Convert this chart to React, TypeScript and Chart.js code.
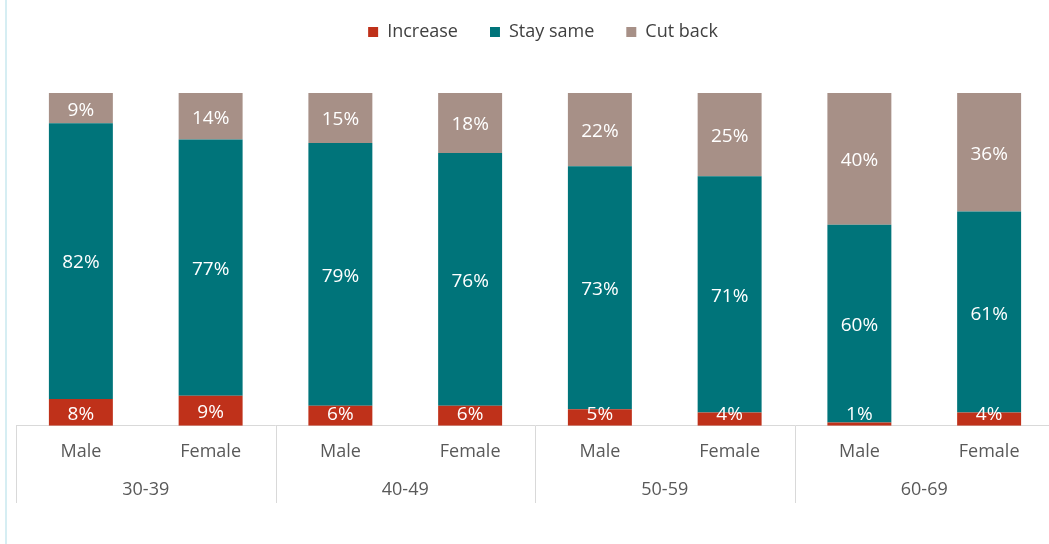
import React, { useEffect, useRef } from "react";
import { Chart, registerables } from "chart.js";

Chart.register(...registerables);

const sexes = ["Male", "Female", "Male", "Female", "Male", "Female", "Male", "Female"];
const ageGroups = ["30-39", "40-49", "50-59", "60-69"];
const increase = [8, 9, 6, 6, 5, 4, 1, 4];
const staySame = [82, 77, 79, 76, 73, 71, 60, 61];
const cutBack = [9, 14, 15, 18, 22, 25, 40, 36];

const seriesNames = ["Increase", "Stay same", "Cut back"];
const seriesColors = ["#BF311A", "#00747A", "#A79087"];

const FONT = "'Open Sans', 'Noto Sans', sans-serif";

const totals = increase.map((v, i) => v + staySame[i] + cutBack[i]);
const norm = (arr: number[]) => arr.map((v, i) => (v / totals[i]) * 100);

const legendSpacePlugin = {
  id: "legendSpace",
  afterInit(chart: any) {
    const lg = chart.legend;
    if (!lg || lg.__patched) return;
    const orig = lg.fit;
    lg.fit = function () {
      orig.call(this);
      this.height += 42;
    };
    lg.__patched = true;
  },
  afterLayout(chart: any) {
    const lg = chart.legend;
    if (!lg) return;
    lg.left += 8;
    lg.right += 8;
  },
};

const labelPlugin = {
  id: "segLabels",
  afterDatasetsDraw(chart: any) {
    const ctx = chart.ctx;
    const bottom = chart.chartArea.bottom;
    ctx.save();
    ctx.fillStyle = "#ffffff";
    ctx.font = `19px ${FONT}`;
    ctx.textAlign = "center";
    ctx.textBaseline = "middle";
    chart.data.datasets.forEach((ds: any, di: number) => {
      const meta = chart.getDatasetMeta(di);
      meta.data.forEach((bar: any, i: number) => {
        const { x, y, base } = bar.getProps(["x", "y", "base"], true);
        let cy = (y + base) / 2;
        cy = Math.min(cy, bottom - 13);
        ctx.fillText(ds.rawValues[i] + "%", x, cy + 2);
      });
    });
    ctx.restore();
  },
};

const separatorPlugin = {
  id: "groupSeparators",
  afterDraw(chart: any) {
    const x2 = chart.scales.x2;
    const ctx = chart.ctx;
    const n = ageGroups.length;
    const step = x2.width / n;
    ctx.save();
    ctx.strokeStyle = "#D9D9D9";
    ctx.lineWidth = 1;
    for (let i = 0; i <= n; i++) {
      const px = Math.round(x2.getPixelForValue(Math.min(i, n - 1)) + (i === n ? step / 2 : -step / 2)) + 0.5;
      ctx.beginPath();
      ctx.moveTo(px, chart.chartArea.bottom);
      ctx.lineTo(px, x2.bottom);
      ctx.stroke();
    }
    ctx.restore();
  },
};

export default function App() {
  const ref = useRef<HTMLCanvasElement>(null);

  useEffect(() => {
    if (!ref.current) return;
    const raw = [increase, staySame, cutBack];
    const chart = new Chart(ref.current, {
      type: "bar",
      data: {
        labels: sexes,
        datasets: raw.map((arr, k) => ({
          label: seriesNames[k],
          data: norm(arr),
          rawValues: arr,
          backgroundColor: seriesColors[k],
          borderWidth: 0,
          categoryPercentage: 1,
          barPercentage: 0.493,
          xAxisID: "x",
        })) as any,
      },
      options: {
        animation: false,
        responsive: true,
        maintainAspectRatio: false,
        layout: { padding: { left: 16, right: 45, top: 0, bottom: 41 } },
        plugins: {
          legend: {
            position: "top",
            labels: {
              boxWidth: 10,
              boxHeight: 10,
              padding: 32,
              color: "#404040",
              font: { family: FONT, size: 18 },
            },
          },
          tooltip: { enabled: false },
        },
        scales: {
          x: {
            type: "category",
            stacked: true,
            grid: { display: false, drawTicks: false },
            border: { display: true, color: "#D9D9D9", width: 1 },
            ticks: { padding: 15, color: "#595959", font: { family: FONT, size: 18 }, maxRotation: 0 },
          },
          x2: {
            type: "category",
            position: "bottom",
            labels: ageGroups,
            offset: true,
            grid: { display: false, drawTicks: false },
            border: { display: false },
            ticks: { padding: 2, color: "#595959", font: { family: FONT, size: 18 }, maxRotation: 0 },
          },
          y: {
            stacked: true,
            display: false,
            min: 0,
            max: 100,
          },
        },
      },
      plugins: [legendSpacePlugin, labelPlugin, separatorPlugin],
    });
    return () => chart.destroy();
  }, []);

  return (
    <div style={{ position: "fixed", left: 0, top: 0, width: 1049, height: 544, overflow: "hidden", background: "#ffffff" }}>
      <div style={{ position: "absolute", left: 5, top: 0, width: 2, height: 544, background: "#D6EEF3" }} />
      <div style={{ position: "absolute", left: 0, top: -9, width: 1099, height: 553 }}>
        <canvas ref={ref} />
      </div>
    </div>
  );
}
